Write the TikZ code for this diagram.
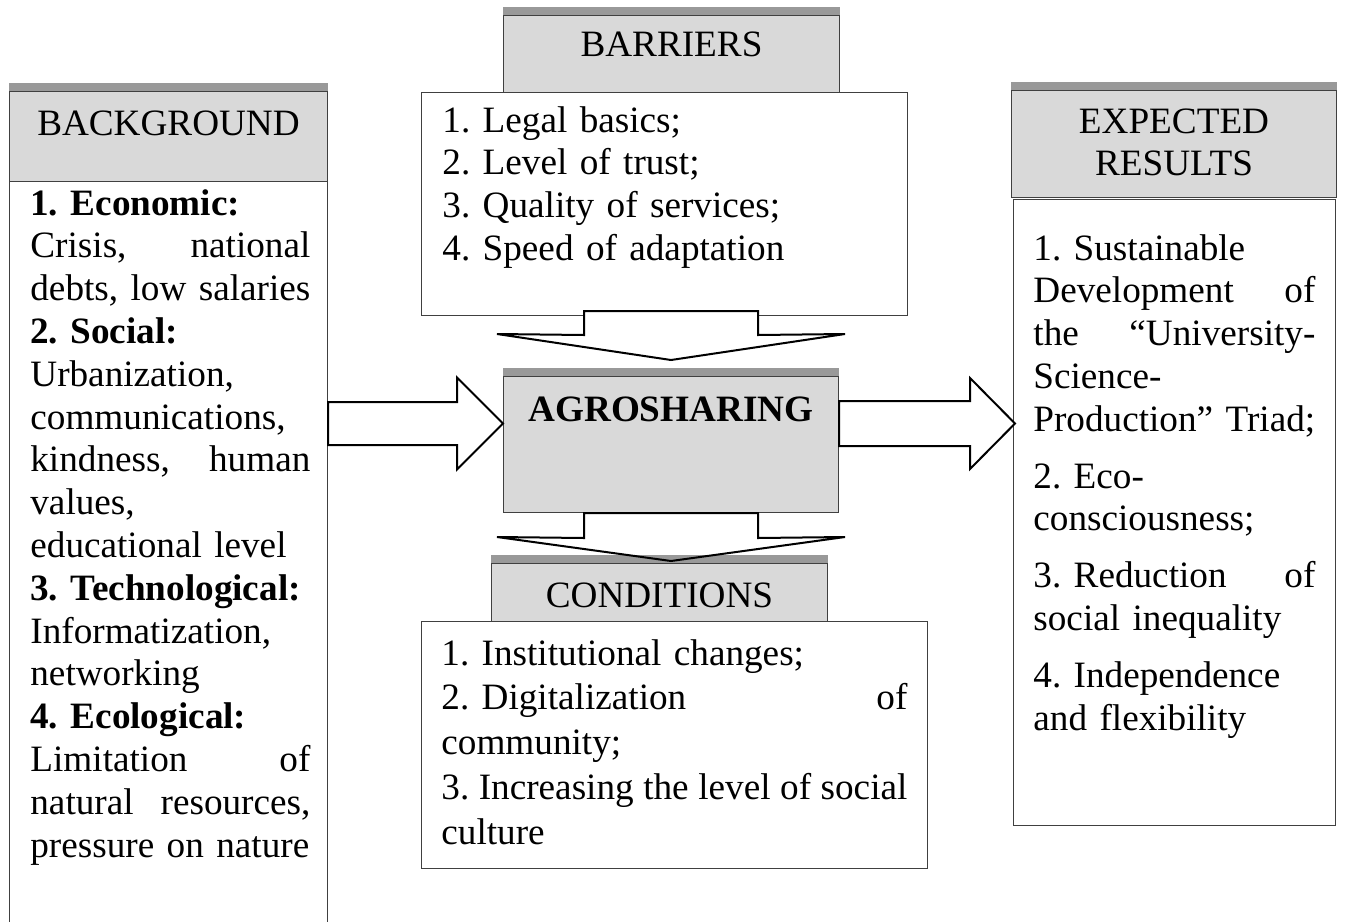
\documentclass[tikz,border=0pt]{standalone}
\usepackage{fontspec}
\setmainfont{Liberation Serif}
\usetikzlibrary{calc,positioning}
\definecolor{hdgray}{HTML}{D9D9D9}
\definecolor{bargray}{HTML}{999999}
\definecolor{edgegray}{HTML}{404040}
\newcommand\gap{\hskip 0pt plus 1filll\relax}
\frenchspacing
\hyphenpenalty=10000
\tikzset{
  headbox/.style={draw=edgegray, line width=0.5pt, fill=hdgray, inner sep=0pt, anchor=north west},
  bodybox/.style={draw=edgegray, line width=0.5pt, fill=white, inner sep=0pt, anchor=north west},
  boxtext/.style={inner sep=0pt, align=left, anchor=base west, font=\fontsize{18.6}{21.4}\selectfont},
  headtext/.style={inner sep=0pt, align=center, anchor=base, text width=150pt, font=\fontsize{18.6}{21.4}\selectfont},
  blockarrow/.style={draw=black, line width=1pt, line join=miter},
}

\begin{document}
\begin{tikzpicture}[x=0.5pt, y=-0.5pt]
\useasboundingbox (0,0) rectangle (1347,921);
% ================= boxes =================
\node[headbox, minimum width=159pt, minimum height=45pt] (bghead) at (9,91) {};
\node[bodybox, minimum width=159pt, minimum height=380pt] (bgbody) at (9,181) {};
\node[headbox, minimum width=168pt, minimum height=38.5pt] (barhead) at (503,15) {};
\node[bodybox, minimum width=243pt, minimum height=111.5pt] (barbody) at (421,92) {};
\node[headbox, minimum width=167.5pt, minimum height=68pt] (agro) at (503,376) {};
\node[headbox, minimum width=168pt, minimum height=29pt] (condhead) at (491,563) {};
\node[bodybox, minimum width=253pt, minimum height=123.5pt] (condbody) at (421,621) {};
\node[headbox, minimum width=162.5pt, minimum height=53.5pt] (exphead) at (1011,90) {};
\node[bodybox, minimum width=161pt, minimum height=313pt] (expbody) at (1013,199) {};
% darker strip on top of the grey boxes
\foreach \n in {bghead,barhead,agro,condhead,exphead}
  \fill[bargray] ([yshift=4pt]\n.north west) rectangle (\n.north east);
% ================= titles =================
\node[headtext] (bglabel) at ([yshift=-22pt]bghead.north) {BACKGROUND};
\node[headtext] (barlabel) at ([yshift=-20.5pt]barhead.north) {BARRIERS};
\node[headtext, font=\fontsize{18.6}{21.4}\selectfont\bfseries] (agrolabel) at ([yshift=-22.5pt]agro.north) {AGROSHARING};
\node[headtext] (condlabel) at ([yshift=-22pt]condhead.north) {CONDITIONS};
\node[headtext] (explabel) at ([yshift=-21.5pt]exphead.north) {EXPECTED\\RESULTS};
% ================= lists =================
\node[boxtext, text width=140pt] (bglist) at ([shift={(10.5pt,-17pt)}]bgbody.north west)
  {\textbf{1. Economic:}\\
   Crisis, \gap national\\
   debts, low salaries\\
   \textbf{2. Social:}\\
   Urbanization,\\
   communications,\\
   kindness, \gap human\\
   values,\\
   educational level\\
   \textbf{3. Technological:}\\
   Informatization,\\
   networking\\
   \textbf{4. Ecological:}\\
   Limitation \gap of\\
   natural \gap resources,\\
   pressure on nature};
\node[boxtext, text width=220pt] (barlist) at ([shift={(10.5pt,-20pt)}]barbody.north west)
  {1. Legal basics;\\
   2. Level of trust;\\
   3. Quality of services;\\
   4. Speed of adaptation};
\node[boxtext, text width=233pt] (condlist) at ([shift={(10pt,-22pt)}]condbody.north west)
  {1. Institutional changes;\\[1pt]
   2. Digitalization \gap of\\[1pt]
   community;\\[1pt]
   \makebox[\linewidth][s]{\spaceskip=0.15em plus 0.2em minus 0.05em\relax 3. Increasing the level of social}\\[1pt]
   culture};
\node[boxtext, text width=141pt] (explist) at ([shift={(10pt,-30.5pt)}]expbody.north west)
  {1. Sustainable\\
   Development \gap of\\
   the \gap ``University-\\
   Science-\\
   Production'' Triad;\\[7pt]
   2. Eco-\\
   consciousness;\\[7pt]
   3. Reduction \gap of\\
   social inequality\\[7pt]
   4. Independence\\
   and flexibility};
% ================= block arrows =================
% background -> agrosharing
\coordinate (ltip) at ([yshift=10.5pt]agro.west);
\coordinate (ltail) at (bgbody.east |- ltip);
\draw[blockarrow, fill=white] ($(ltail)+(0,-21.5)$) -- ($(ltip)+(-46,-21.5)$) -- ($(ltip)+(-46,-46)$)
  -- (ltip) -- ($(ltip)+(-46,46)$) -- ($(ltip)+(-46,21.5)$) -- ($(ltail)+(0,21.5)$) -- cycle;
% agrosharing -> expected results
\coordinate (rtail) at ([yshift=10.5pt]agro.east);
\coordinate (rtip) at ([xshift=1pt]expbody.west |- rtail);
\draw[blockarrow, fill=white] ($(rtail)+(0,-22.5)$) -- ($(rtip)+(-45,-22.5)$) -- ($(rtip)+(-45,-45.5)$)
  -- (rtip) -- ($(rtip)+(-45,45.5)$) -- ($(rtip)+(-45,22.5)$) -- ($(rtail)+(0,22.5)$) -- cycle;
% barriers -> agrosharing
\coordinate (dtip) at ([yshift=8pt]agro.north);
\coordinate (dtail) at ([yshift=2.5pt]barbody.south -| dtip);
\draw[blockarrow, fill=white] ($(dtail)+(-87,0)$) -- ($(dtail)+(87,0)$) -- ($(dtail)+(87,24)$)
  -- ($(dtip)+(174,-26)$) -- (dtip) -- ($(dtip)+(-174,-26)$) -- ($(dtail)+(-87,24)$) -- cycle;
% agrosharing -> conditions
\coordinate (etail) at (agro.south);
\coordinate (etip) at ([yshift=1pt]etail |- condhead.north);
\draw[blockarrow] ($(etail)+(-87,0)$) -- ($(etail)+(87,0)$) -- ($(etail)+(87,25)$)
  -- ($(etip)+(174,-24)$) -- (etip) -- ($(etip)+(-174,-24)$) -- ($(etail)+(-87,25)$) -- cycle;
\end{tikzpicture}
\end{document}
